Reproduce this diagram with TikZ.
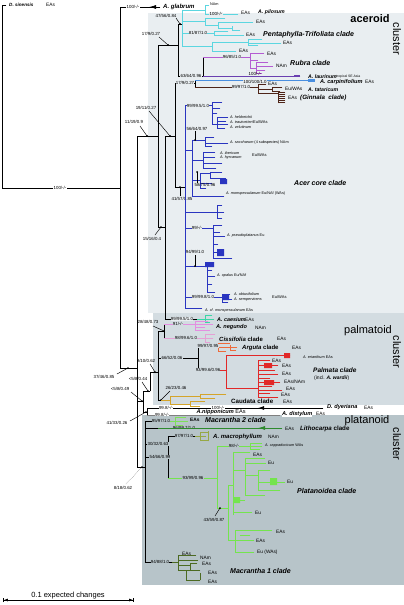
\documentclass[tikz,border=0pt]{standalone}
\usepackage{fontspec}
\setmainfont{Liberation Sans}
\usetikzlibrary{arrows.meta}
\definecolor{bgacer}{HTML}{E9EEF1}
\definecolor{bgpalm}{HTML}{D3DCE1}
\definecolor{bgplat}{HTML}{B7C4C9}
\definecolor{cPenta}{HTML}{5CD6E0}
\definecolor{cRubra}{HTML}{B45CD2}
\definecolor{cLaur}{HTML}{6A3FB0}
\definecolor{cCarp}{HTML}{4A8FE0}
\definecolor{cGinn}{HTML}{4E2418}
\definecolor{cCore}{HTML}{2A35C0}
\definecolor{cCaes}{HTML}{3CD6A6}
\definecolor{cNeg}{HTML}{E38FE0}
\definecolor{cCiss}{HTML}{E5A0D5}
\definecolor{cArg}{HTML}{EE6A3A}
\definecolor{cPalm}{HTML}{E12828}
\definecolor{cCaud}{HTML}{D4A42A}
\definecolor{cMac2}{HTML}{7EE05A}
\definecolor{cLith}{HTML}{2E8A2E}
\definecolor{cMacr}{HTML}{96A844}
\definecolor{cPlat}{HTML}{74E44E}
\definecolor{cMac1}{HTML}{4C6A22}
\tikzset{
  br/.style    = {line width=0.85pt, line cap=rect},
  bb/.style    = {br, black},
  sp/.style    = {anchor=west, inner sep=0pt, font=\fontsize{5.6}{6}\selectfont\bfseries\itshape},
  spsm/.style  = {anchor=west, inner sep=0pt, font=\fontsize{3.8}{4}\selectfont\itshape},
  geo/.style   = {anchor=west, inner sep=0pt, font=\fontsize{4.8}{5}\selectfont},
  supp/.style  = {inner sep=0.2pt, font=\fontsize{4.4}{5}\selectfont},
  clade/.style = {anchor=west, inner sep=0pt, font=\fontsize{7}{8}\selectfont\bfseries\itshape},
  clust/.style = {inner sep=0pt, font=\fontsize{11}{12}\selectfont},
  dot/.style   = {circle, fill=black, inner sep=0pt, minimum size=2pt},
  ptr/.style   = {black, line width=0.45pt}
}
\begin{document}
\begin{tikzpicture}[x=1pt,y=-1pt]
\useasboundingbox (0,0) rectangle (404,605);
% cluster panels
\fill[bgacer] (148,13) rectangle (404,313);
\fill[bgpalm] (153,313) rectangle (404,405);
\fill[bgplat] (142,415) rectangle (404,585);
\node[clust, font=\fontsize{11}{12}\selectfont\bfseries, anchor=base] (acer) at (370,22) {aceroid};
\node[clust, rotate=-90] (acerc) at (397,39) {cluster};
\node[clust, anchor=base] (palm) at (368,333) {palmatoid};
\node[clust, rotate=-90] (palmc) at (397,352) {cluster};
\node[clust, anchor=base] (plat) at (367,423) {platanoid};
\node[clust, rotate=-90] (platc) at (397,444) {cluster};

% root and outgroup
\draw[bb] (6,5) -- (2,5) -- (2,188) -- (120,188);
\node[supp, fill=white] (s-root) at (60,188) {100/-/-};
\node[sp, font=\fontsize{4.6}{5}\selectfont\bfseries\itshape] (dsin) at (9,5) {D. sinensis};
\node[geo] (dsin-g) at (46,5) {EAs};

% A. glabrum
\draw[bb] (120,7) -- (120,368) (120,7) -- (160,7);
\draw[bb, -{Latex[length=7pt,width=4pt]}] (158,7) -- (149,7);
\node[supp, fill=white] (s-glab) at (133,7) {100/-/-};
\node[sp, font=\fontsize{6}{7}\selectfont\bfseries\itshape] (glab) at (163,7) {A. glabrum};

% backbone of the aceroid cluster
\draw[bb] (120,368) -- (137,368) (137,136) -- (137,467) (137,136) -- (158,136)
  (158,45) -- (158,227) (158,45) -- (178,45) (178,24) -- (178,76) (178,24) -- (182,24)
  (178,76) -- (203,76) (203,57) -- (203,76)
  (158,227) -- (165,227) (165,136) -- (165,319) (165,136) -- (175,136)
  (175,83) -- (175,187) (175,83) -- (195,83) (195,80.5) -- (195,87)
  (175,187) -- (185,187) (165,319) -- (197,319);
\foreach \p in {(128,368),(147,136),(168,45),(180,24),(170,136),(161,227),(180,187)}
  \node[dot] at \p {};
\node[supp] (s1) at (134,122) {11/19/0.9};
\draw[ptr] (140,126) -- (147,136);
\node[supp] (s2) at (151,34) {17/9/0.27};
\draw[ptr] (159,37) -- (168,45);
\node[supp] (s3) at (166,15.5) {47/56/0.84};
\draw[ptr] (176,18) -- (180,24);
\node[supp, fill=bgacer] (s4) at (191,76) {63/64/0.96};
\node[supp] (s5) at (146,108) {19/11/0.27};
\draw[ptr] (149,111) -- (170,136);
\node[supp] (s6) at (152,239) {15/16/0.4};
\draw[ptr] (155,235) -- (161,227);
\node[supp] (s7) at (182,199) {41/57/0.85};
\draw[ptr] (180,196) -- (180,187);
\node[supp, fill=bgacer] (s8) at (185,83) {17/9/0.27};

% Pentaphylla-Trifoliata clade
\draw[br, cPenta] (182,10) -- (182,46)
  (182,10) -- (205,10) (205,5) -- (205,14) (205,5) -- (209,5) (205,14) -- (238,14)
  (182,21) -- (205,21) (205,18) -- (205,25) (205,18) -- (225,18) (205,25) -- (218,25)
  (218,22) -- (218,28) (218,22) -- (253,22) (218,28) -- (232,28) (232,26) -- (232,30) (232,30) -- (240,30)
  (182,33) -- (214,33) (214,31) -- (214,35) (214,31) -- (228,31) (214,35) -- (244,35)
  (182,46) -- (212,46) (212,42) -- (212,51) (212,42) -- (248,42) (248,39) -- (248,45)
  (248,39) -- (262,39) (248,43) -- (281,43) (248,45) -- (258,45) (212,51) -- (236,51);
\node[geo, font=\fontsize{3.8}{4}\selectfont] (pil-n) at (210,4) {NAm};
\node[supp, fill=bgacer] (s9) at (216,13.5) {100/-/-};
\node[geo] (pil-g) at (241,13) {EAs};
\node[sp, font=\fontsize{5.2}{6}\selectfont\bfseries\itshape] (pil) at (258,12.5) {A. pilosum};
\node[geo] (pt-g1) at (256,22) {EAs};
\node[supp, fill=bgacer] (s10) at (198,33) {81/87/1.0};
\node[geo] (pt-g2) at (246,35) {EAs};
\node[clade] (pt) at (263,35) {Pentaphylla-Trifoliata clade};
\node[geo] (pt-g3) at (283,43) {EAs};
\node[geo] (pt-g4) at (239,51) {EAs};

% Rubra clade and A. laurinum
\draw[br, cRubra] (203,57) -- (250,57) (250,53) -- (250,68) (250,53) -- (264,53) (250,60) -- (258,60)
  (250,68) -- (256,68) (256,62) -- (256,73) (256,62) -- (268,62) (256,66) -- (273,66)
  (256,70) -- (265,70) (256,73) -- (262,73);
\node[supp, fill=bgacer] (s11) at (232,57) {96/85/1.0};
\node[geo] (ru-g1) at (267,54) {EAs};
\node[geo] (ru-g2) at (276,66) {NAm};
\node[clade] (ru) at (290,63) {Rubra clade};
\draw[br, cLaur] (203,76) -- (300,76);
\fill[cLaur] (294,74.8) rectangle (300,77.2);
\node[supp, anchor=south] (s12) at (255,76) {100/-/-};
\node[sp, font=\fontsize{5.2}{6}\selectfont\bfseries\itshape] (laur) at (308,76.5) {A. laurinum};
\node[geo, font=\fontsize{3.4}{4}\selectfont] (laur-g) at (336,77) {tropical SE Asia};

% A. carpinifolium and Ginnala clade
\draw[br, cCarp] (195,80.5) -- (315,80.5);
\fill[cCarp] (308,79.2) rectangle (315,81.8);
\node[supp, fill=bgacer] (s13) at (255,81.5) {100/100/1.0};
\node[sp] (carp) at (320,82) {A. carpinifolium};
\node[geo] (carp-g) at (365,82) {EAs};
\draw[br, cGinn] (195,87) -- (258,87) (258,84) -- (258,93) (258,84) -- (266,84)
  (258,89) -- (272,89) (272,87) -- (272,91) (272,87) -- (282,87) (272,91) -- (280,91)
  (258,93) -- (278,93) (278,92) -- (278,103);
\foreach \yy in {92,94,96,98,100,102} \draw[br, cGinn, line width=0.5pt] (278,\yy) -- (285,\yy);
\node[supp, fill=bgacer] (s14) at (241,87) {99/97/1.0};
\node[geo] (gi-g1) at (268,84) {EAs};
\node[geo] (gi-g2) at (285,88.5) {Eu/WAs};
\node[sp, font=\fontsize{5.2}{6}\selectfont\bfseries\itshape] (tat) at (308,90) {A. tataricum};
\node[geo] (gi-g3) at (288,98) {EAs};
\node[clade, font=\fontsize{6.2}{7}\selectfont\bfseries\itshape] (gi) at (300,98) {(Ginnala\ \ clade)};

% Acer core clade
\draw[br, cCore] (185,105) -- (185,308)
  (185,105) -- (212,105) (212,102) -- (212,124) (212,102) -- (222,102) (212,108) -- (220,108)
  (212,113) -- (217,113) (212,124) -- (217,124) (217,117) -- (217,128) (217,117) -- (228,117)
  (217,121) -- (226,121) (217,124) -- (228,124) (217,128) -- (225,128)
  (185,150) -- (192,150) (192,140) -- (192,196)
  (192,140) -- (205,140) (205,137) -- (205,146) (205,137) -- (214,137) (205,143) -- (228,143) (205,146) -- (212,146)
  (192,160) -- (203,160) (203,152) -- (203,168) (203,152) -- (215,152) (203,157) -- (215,157)
  (203,163) -- (222,163) (203,168) -- (216,168)
  (192,180) -- (200,180) (200,173) -- (200,188) (200,173) -- (210,173) (210,172) -- (210,178)
  (210,172) -- (222,172) (210,178) -- (226,178) (200,183) -- (212,183) (200,188) -- (206,188)
  (192,196) -- (224,196)
  (185,212) -- (217,212) (217,205) -- (217,218) (217,205) -- (222,205) (217,212) -- (224,212) (217,218) -- (222,218)
  (185,228) -- (213,228) (213,225) -- (213,258) (213,225) -- (222,225) (213,232) -- (220,232)
  (213,236) -- (225,236) (213,244) -- (218,244) (213,252) -- (220,252) (213,258) -- (232,258)
  (185,266) -- (207,266) (207,262) -- (207,292) (207,262) -- (214,262) (207,270) -- (212,270)
  (207,276) -- (215,276) (207,284) -- (212,284) (207,292) -- (215,292)
  (185,297) -- (222,297) (222,294) -- (222,302) (222,294) -- (230,294) (222,299) -- (232,299) (222,302) -- (228,302)
  (185,308) -- (202,308);
\fill[cCore] (220,179) rectangle (227,184) (217,249) rectangle (224,256) (205,262) rectangle (214,267) (222,295) rectangle (229,300);
\node[supp, fill=bgacer] (s15) at (198,106) {99/99.5/1.0};
\node[spsm] (held) at (230,117) {A. heldreichii};
\node[spsm] (trau) at (230,122) {A. trautvetteri};
\node[geo, font=\fontsize{4}{4.5}\selectfont] (he-g) at (253,122) {Eu/WAs};
\node[spsm] (velu) at (230,127) {A. velutinum};
\node[supp] (s16) at (197,129) {56/64/0.97};
\node[dot] at (195,140) {};
\draw[ptr] (195,131) -- (195,140);
\node[spsm] (sacc) at (230,143) {A. saccharum \upshape(4 subspecies) NAm};
\node[spsm] (iber) at (220,153) {A. ibericum};
\node[spsm] (hyrc) at (220,158) {A. hyrcanum};
\node[geo, font=\fontsize{4}{4.5}\selectfont] (ib-g) at (252,155) {Eu/WAs};
\node[supp] (s17) at (205,185) {58/75/0.96};
\node[dot] at (197,172) {};
\draw[ptr] (197,172) -- (197,183);
\node[clade] (core) at (294,183) {Acer core clade};
\node[spsm] (mons) at (226,194) {A. monspessulanum \upshape Eu/NAf (WAs)};
\node[supp, fill=bgacer] (s18) at (197,228) {99/-/-};
\node[spsm] (pseu) at (227,236) {A. pseudoplatanus \upshape Eu};
\node[supp] (s19) at (195,252) {94/99/1.0};
\node[dot] at (195,266) {};
\draw[ptr] (195,255) -- (195,266);
\node[spsm] (opal) at (217,276) {A. opalus \upshape Eu/NAf};
\node[supp, fill=bgacer] (s20) at (203,297) {99/99.8/1.0};
\node[spsm] (obtu) at (234,294) {A. obtusifolium};
\node[spsm] (semp) at (234,299.5) {A. sempervirens};
\node[geo, font=\fontsize{4}{4.5}\selectfont] (ob-g) at (272,297) {Eu/WAs};
\node[spsm] (cfmo) at (205,311) {A. cf. monspessulanum \upshape EAs};

% A. caesium
\draw[br, cCaes] (197,319) -- (205,319) (205,315) -- (205,322) (205,315) -- (212,315)
  (205,319) -- (214,319) (205,322) -- (210,322);
\node[supp, fill=bgacer] (s21) at (182,319) {99/99.5/1.0};
\node[sp, font=\fontsize{5.4}{6}\selectfont\bfseries\itshape] (caes) at (217,319.5) {A. caesium};
\node[geo] (caes-g) at (245,319.5) {EAs};

% palmatoid backbone
\draw[bb] (137,401) -- (143,401) (143,391) -- (143,412) (143,391) -- (150,391)
  (150,372) -- (150,391) (150,372) -- (158,372) (158,331) -- (158,400)
  (158,331) -- (164,331) (164,324) -- (164,338)
  (158,358) -- (198,358) (198,346) -- (198,370) (158,400) -- (167,400)
  (143,412) -- (147,412) (147,408) -- (147,415);
\foreach \p in {(142,401),(148,391),(155,372),(164,331),(161,400),(146,412)}
  \node[dot] at \p {};
\node[supp] (s22) at (148,322) {28/48/0.73};
\draw[ptr] (153,326) -- (164,331);
\node[supp] (s23) at (146,361) {9/10/0.62};
\draw[ptr] (150,364) -- (155,372);
\node[supp] (s24) at (138,379) {<5/8/0.44};
\draw[ptr] (142,382) -- (148,391);
\node[supp] (s25) at (120,389) {<5/8/0.49};
\draw[ptr] (131,392) -- (142,401);
\node[supp] (s26) at (104,377) {37/46/0.85};
\draw[ptr] (117,374) -- (128,368);
\node[supp] (s27) at (117,423) {41/33/0.26};
\draw[ptr] (130,421) -- (146,412);
\node[supp, fill=bgpalm] (s28) at (172,358) {66/52/0.06};
\node[supp] (s29) at (176,388) {26/23/0.46};
\draw[ptr] (170,391) -- (161,400);

% A. negundo and Cissifolia clade
\draw[br, cNeg] (164,324) -- (195,324) (195,321) -- (195,330) (195,321) -- (208,321)
  (195,324) -- (213,324) (195,327) -- (205,327) (195,330) -- (210,330);
\node[supp, fill=bgpalm] (s30) at (178,324) {91/-/-};
\node[sp] (negu) at (216,327.5) {A. negundo};
\node[geo] (neg-g) at (255,328) {NAm};
\draw[br, cCiss] (164,338) -- (205,338) (205,334) -- (205,342) (205,334) -- (215,334)
  (205,338) -- (213,338) (205,342) -- (210,342);
\node[supp, fill=bgpalm] (s31) at (186,338) {98/99.6/1.0};
\node[clade, font=\fontsize{6}{7}\selectfont\bfseries\itshape] (ciss) at (219,339) {Cissifolia \upshape clade};
\node[geo] (ciss-g) at (277,339) {EAs};

% Arguta and Palmata clades
\draw[br, cArg] (198,346) -- (218,346) (218,343) -- (218,351) (218,343) -- (230,343)
  (218,347) -- (237,347) (230,345) -- (230,350) (230,350) -- (236,350) (218,351) -- (226,351);
\node[supp, fill=bgpalm] (s32) at (208,346) {99/97/0.95};
\node[clade, font=\fontsize{6}{7}\selectfont\bfseries\itshape] (argu) at (242,348) {Arguta \upshape clade};
\node[geo] (arg-g) at (292,348) {EAs};
\draw[br, cPalm] (198,370) -- (226,370) (226,355) -- (226,388) (226,355) -- (290,355)
  (226,388) -- (258,388) (258,360) -- (258,397)
  (258,360) -- (270,360) (258,365) -- (278,365) (258,370) -- (275,370) (258,374) -- (278,374)
  (258,378) -- (270,378) (258,382) -- (280,382) (258,386) -- (272,386) (258,390) -- (282,390)
  (258,393) -- (270,393) (258,397) -- (278,397);
\fill[cPalm] (284,353) rectangle (290,358) (264,363) rectangle (272,368) (264,380) rectangle (274,385);
\node[supp, fill=bgpalm] (s33) at (208,370) {93/99.6/0.96};
\node[spsm] (eria) at (303,357) {A. erianthum \upshape EAs};
\node[geo] (pa-g1) at (272,361) {EAs};
\node[geo] (pa-g2) at (282,366) {EAs};
\node[geo] (pa-g3) at (282,374) {EAs};
\node[geo] (pa-g4) at (284,382) {EAs/NAm};
\node[geo] (pa-g5) at (286,389) {EAs};
\node[geo] (pa-g6) at (281,395) {EAs};
\node[clade, font=\fontsize{6.5}{7}\selectfont\bfseries\itshape] (palmc) at (313,370) {Palmata clade};
\node[anchor=west, inner sep=0pt, font=\fontsize{5}{6}\selectfont] (ward) at (314,378) {(incl. \textbf{\textit{A. wardii}})};

% Caudata clade
\draw[br, cCaud] (161,400) -- (170,400) (170,396) -- (170,404) (170,396) -- (200,396)
  (200,394) -- (200,398) (200,394) -- (226,394) (200,398) -- (215,398)
  (170,404) -- (190,404) (190,401) -- (190,406) (190,401) -- (205,401) (190,406) -- (200,406);
\node[clade, font=\fontsize{6.2}{7}\selectfont\bfseries] (caud) at (231,401) {Caudata clade};
\node[geo] (cau-g) at (283,402) {EAs};

% D. dyeriana, A. nipponicum, A. distylum
\draw[bb] (147,408) -- (323,408);
\draw[bb, -{Latex[length=6pt,width=4pt]}] (268,408) -- (258,408);
\draw[br, gray] (147,415) -- (195,415) (195,415) -- (280,415);
\node[supp, fill=white] (s34) at (166,408) {99.8/-/-};
\node[supp, fill=white] (s35) at (218,407.5) {100/-/-};
\node[sp] (dyer) at (327,407.5) {D. dyeriana};
\node[geo] (dyer-g) at (364,407.5) {EAs};
\node[supp, fill=white] (s36) at (162,414.5) {99.8/-/-};
\node[sp, fill=white, inner sep=0.3pt] (nipp) at (196,412) {A.nipponicum \upshape\mdseries EAs};
\node[sp, fill=white] (dist) at (282,414) {A. distylum};
\node[geo] (dist-g) at (316,414) {EAs};

% platanoid backbone
\draw[bb] (137,467) -- (145,467) (145,421) -- (145,562)
  (145,421) -- (170,421) (145,428) -- (158,428) (145,444) -- (168,444) (168,436) -- (168,478)
  (145,457) -- (150,457)
  (168,436) -- (195,436) (145,562) -- (172,562);
\node[dot] at (142,467) {};
\node[supp] (s37) at (123,488) {8/18/0.62};
\draw[black, line width=0.3pt, densely dotted] (126,484) -- (142,467);
\node[supp, fill=bgplat] (s38) at (161,421) {95/97/1.0};
\node[supp, fill=bgplat] (s39) at (184,428) {96/99.7/1.0};
\node[supp, fill=bgplat] (s40) at (184,436) {97/97/1.0};
\node[supp, fill=bgplat] (s41) at (158,444) {30/32/0.63};
\node[supp, fill=bgplat] (s42) at (160,457) {54/66/0.99};
\node[supp, fill=bgplat] (s43) at (160,562) {94/88/1.0};

% Macrantha 2 and Lithocarpa clades, A. macrophyllum
\draw[br, cMac2] (170,421) -- (175,421) (175,417) -- (175,425) (175,417) -- (186,417)
  (175,421) -- (188,421) (175,425) -- (183,425);
\node[geo, font=\fontsize{4.8}{5}\selectfont\bfseries] (m2-g) at (190,419.5) {EAs};
\node[clade] (mac2) at (205,419.5) {Macrantha 2 clade};
\draw[br, cLith] (158,428) -- (282,428);
\draw[br, cLith, -{Latex[length=7pt,width=4pt]}] (270,428) -- (258,428);
\node[geo] (li-g) at (285,429) {EAs};
\node[clade, font=\fontsize{6.2}{7}\selectfont\bfseries\itshape] (lith) at (300,429) {Lithocarpa \upshape clade};
\draw[br, cMacr] (195,436) -- (200,436) (200,432) -- (200,440) (200,432) -- (208,432)
  (200,436) -- (206,436) (200,440) -- (208,440) (208,431) -- (208,441);
\node[sp, font=\fontsize{6}{7}\selectfont\bfseries\itshape] (macr) at (213,437) {A. macrophyllum};
\node[geo] (macr-g) at (268,437) {NAm};

% Platanoidea clade
\draw[br, cPlat] (168,478) -- (217,478) (217,446) -- (217,508)
  (217,446) -- (262,446) (250,443) -- (250,449) (250,443) -- (262,443) (250,449) -- (260,449)
  (217,508) -- (228,508) (228,485) -- (228,540)
  (228,485) -- (233,485) (233,452) -- (233,515)
  (233,452) -- (250,452) (233,470) -- (245,470) (245,458) -- (245,495)
  (245,458) -- (265,458) (245,463) -- (266,463) (245,475) -- (258,475) (258,470) -- (258,490)
  (258,470) -- (270,470) (258,482) -- (285,482) (258,490) -- (280,490) (245,495) -- (265,495)
  (233,500) -- (245,500) (233,512) -- (252,512)
  (228,540) -- (235,540) (235,530) -- (235,552)
  (235,530) -- (272,530) (235,540) -- (254,540) (235,552) -- (254,552) (240,535) -- (250,535);
\fill[cPlat] (270,478) rectangle (277,485) (233,497) rectangle (240,503);
\node[supp, fill=bgplat] (s44) at (193,478) {93/99/0.96};
\node[supp, fill=bgplat] (s45) at (234,446) {98/-/-};
\node[spsm] (capp) at (265,446) {A. cappadocicum \upshape WAs};
\node[dot] at (220,508) {};
\node[supp] (s46) at (214,520) {43/59/0.87};
\draw[ptr] (215,516) -- (220,508);
\node[geo] (pl-g1) at (253,455) {EAs};
\node[geo] (pl-g2) at (268,463) {Eu};
\node[geo] (pl-g3) at (287,482) {Eu};
\node[clade] (plat-c) at (297,491) {Platanoidea clade};
\node[geo] (pl-g4) at (255,513) {Eu};
\node[geo] (pl-g5) at (276,532) {EAs};
\node[geo] (pl-g6) at (256,541) {EAs};
\node[geo] (pl-g7) at (257,552) {Eu (WAs)};

% Macrantha 1 clade
\draw[br, cMac1] (172,562) -- (178,562) (178,555) -- (178,570) (178,555) -- (196,555)
  (178,560) -- (198,560) (178,565) -- (190,565) (190,563) -- (190,570) (190,563) -- (197,563)
  (178,570) -- (186,570) (186,570) -- (186,580) (186,570) -- (200,570) (186,580) -- (200,580)
  (200,573) -- (200,580);
\node[geo] (m1-g0) at (182,554) {EAs};
\node[geo] (m1-g1) at (200,558) {NAm};
\node[geo] (m1-g2) at (202,564) {EAs};
\node[geo] (m1-g3) at (208,573) {EAs};
\node[geo] (m1-g4) at (208,582) {EAs};
\node[clade] (mac1) at (230,571) {Macrantha 1 clade};

% scale bar
\coordinate (sb1) at (3,600);
\coordinate (sb2) at (134,600);
\draw[bb, {Bar[width=4pt]Latex[length=4pt,width=3pt]}-{Latex[length=4pt,width=3pt]Bar[width=4pt]}] (sb1) -- (sb2);
\node[anchor=base, inner sep=0pt, font=\fontsize{7.5}{8}\selectfont] (sb) at (68,597) {0.1 expected changes};
\end{tikzpicture}
\end{document}
